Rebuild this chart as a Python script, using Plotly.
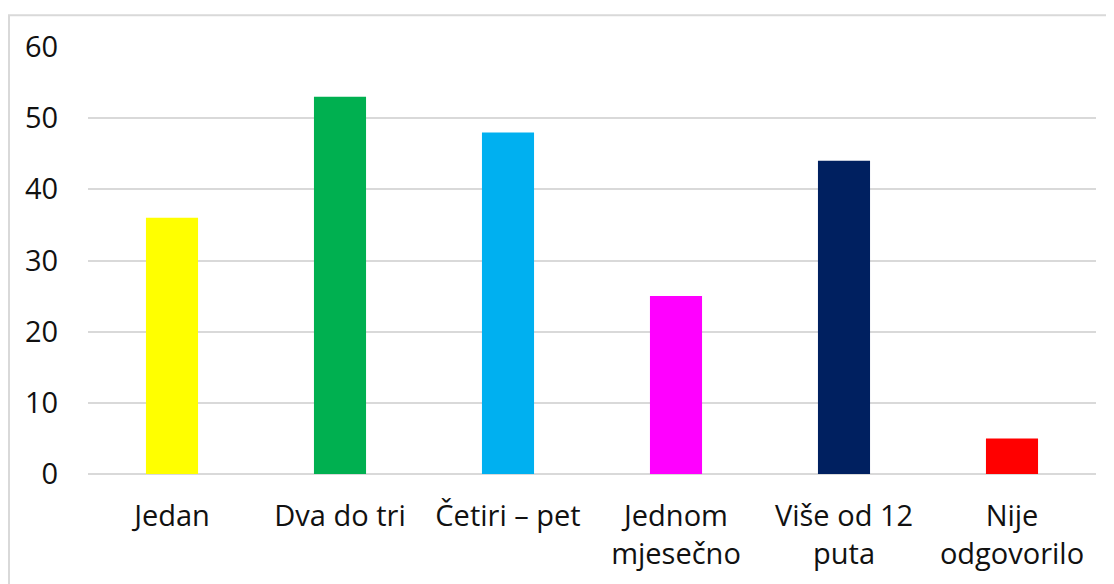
import plotly.graph_objects as go

categories = ["Jedan", "Dva do tri", "Četiri – pet", "Jednom<br>mjesečno", "Više od 12<br>puta", "Nije<br>odgovorilo"]
values = [36, 53, 48, 25, 44, 5]
colors = ["#FFFF00", "#00B050", "#00B0F0", "#FF00FF", "#002060", "#FF0000"]
y_ticks = [0, 10, 20, 30, 40, 50, 60]

# page has an 8px body margin; figure sized to fit the window
W, H = 1106, 576
L, R, T, B = 80, 18, 39, 106
pw, ph = W - L - R, H - T - B

fig = go.Figure(go.Bar(x=categories, y=values, marker=dict(color=colors, line=dict(width=0)), width=0.31))

fig.update_layout(
    width=W, height=H,
    margin=dict(l=L, r=R, t=T, b=B),
    paper_bgcolor="white", plot_bgcolor="white",
    font=dict(family="Open Sans", size=29, color="#111111"),
    showlegend=False,
    xaxis=dict(showgrid=False, showline=False, zeroline=False, ticks="outside", ticklen=0,
               ticklabelstandoff=16, tickfont=dict(size=29)),
    yaxis=dict(range=[0, 60], tickvals=y_ticks, showgrid=True, gridcolor="#d9d9d9", gridwidth=2,
               zeroline=True, zerolinecolor="#d9d9d9", zerolinewidth=2, showline=False,
               ticks="outside", ticklen=0, ticklabelstandoff=23, tickfont=dict(size=29)),
    shapes=[dict(type="rect", xref="paper", yref="paper",
                 x0=(1 - L) / pw, x1=(W + 20 - L) / pw,
                 y0=-(H + 20 - T - ph) / ph, y1=1 + (T - 7) / ph,
                 line=dict(color="#d9d9d9", width=2), layer="below")],
)

fig.write_html("out.html")
